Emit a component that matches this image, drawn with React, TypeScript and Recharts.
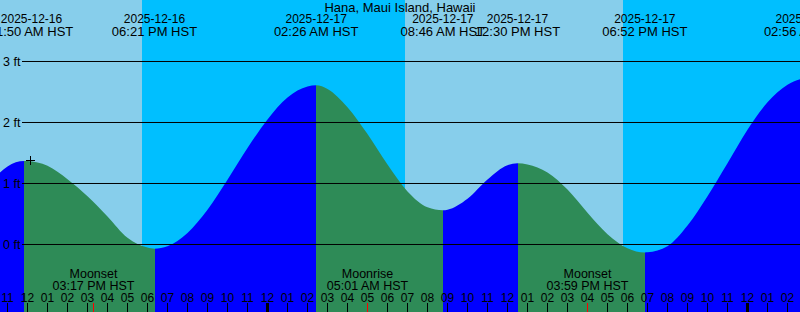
import React from 'react';
import { ComposedChart, Area, XAxis, YAxis, ReferenceArea, ReferenceLine, ReferenceDot } from 'recharts';

const W = 800;
const H = 312;
const FONT = '"Liberation Sans", Arial, Helvetica, sans-serif';

const TITLE = 'Hana, Maui Island, Hawaii';

// time axis: hours since 2025-12-16 00:00 HST
const X_DOMAIN: [number, number] = [10.625, 50.625];
const Y_DOMAIN: [number, number] = [-1.1066, 4.0082];

// tide height samples (ft)
const sampleHours = [10.625, 11, 11.833, 12, 13, 14, 15, 16, 17, 18, 18.35, 19, 20, 21, 22, 23, 24, 25, 26, 26.433, 27, 28, 29, 30, 31, 32, 32.767, 33, 34, 35, 36, 36.5, 37, 38, 39, 40, 41, 42, 42.867, 43, 44, 45, 46, 47, 48, 49, 50, 50.625];
const sampleFeet = [1.18, 1.28, 1.37, 1.368, 1.29, 1.07, 0.79, 0.46, 0.11, -0.05, -0.07, -0.03, 0.19, 0.57, 1.06, 1.58, 2.05, 2.41, 2.59, 2.61, 2.55, 2.25, 1.81, 1.31, 0.87, 0.61, 0.56, 0.57, 0.75, 1.065, 1.3, 1.33, 1.31, 1.18, 0.9, 0.52, 0.17, -0.06, -0.13, -0.128, -0.03, 0.31, 0.79, 1.33, 1.88, 2.33, 2.62, 2.71];

// tide extremes
const tideHours = [11.833, 18.35, 26.433, 32.767, 36.5, 42.867, 50.933];
const tideDates = ['2025-12-16', '2025-12-16', '2025-12-17', '2025-12-17', '2025-12-17', '2025-12-17', '2025-12-18'];
const tideTimes = ['11:50 AM HST', '06:21 PM HST', '02:26 AM HST', '08:46 AM HST', '12:30 PM HST', '06:52 PM HST', '02:56 AM HST'];

// moon events
const moonHours = [15.283, 29.017, 39.983];
const moonNames = ['Moonset', 'Moonrise', 'Moonset'];
const moonTimes = ['03:17 PM HST', '05:01 AM HST', '03:59 PM HST'];

// sun: darkness intervals
const sunsetHours = [17.725, 41.775];
const sunriseHours = [30.875];

const gridFeet = [0, 1, 2, 3];
const gridLabels = ['0 ft', '1 ft', '2 ft', '3 ft'];

const hourTicks: number[] = [];
for (let h = 11; h <= 50; h++) hourTicks.push(h);

const marker = { h: 12.15, ft: 1.37 };

const DAY = '#87CEEB';
const NIGHT = '#00BFFF';
const FLOOD = '#0000FF';
const EBB = '#2E8B57';

const data = sampleHours.map((h, i) => ({ h, ft: sampleFeet[i] }));

// day / night bands
const bandEdges = [X_DOMAIN[0], sunsetHours[0], sunriseHours[0], sunsetHours[1], X_DOMAIN[1]];
const bands = bandEdges.slice(0, -1).map((from, i) => ({ from, to: bandEdges[i + 1], night: i % 2 === 1 }));

// flood / ebb gradient stops
const frac = (h: number) => (h - X_DOMAIN[0]) / (X_DOMAIN[1] - X_DOMAIN[0]);
const fillBounds = [X_DOMAIN[0], ...tideHours.filter((h) => h < X_DOMAIN[1]), X_DOMAIN[1]];
const stops: { off: number; color: string }[] = [];
for (let i = 0; i < fillBounds.length - 1; i++) {
  const c = i % 2 === 0 ? FLOOD : EBB;
  stops.push({ off: frac(fillBounds[i]), color: c });
  stops.push({ off: frac(fillBounds[i + 1]), color: c });
}

const hourShape = (h: number) => (p: any) => {
  const m = h % 12;
  const label = String(m === 0 ? 12 : m).padStart(2, '0');
  const midnight = h % 24 === 0;
  const cx = Math.floor(p.x1 + 0.001) + 0.5;
  const bottom = Math.max(p.y1, p.y2);
  return (
    <g>
      <text x={cx} y={301.5} textAnchor="middle" fontSize={12} fontFamily={FONT} fill="#000">{label}</text>
      <line x1={cx} x2={cx} y1={bottom - 9} y2={bottom} stroke="#000" strokeWidth={midnight ? 3 : 1} />
    </g>
  );
};

const gridShape = (label: string) => (p: any) => {
  const y = p.y1;
  return (
    <g>
      <line x1={Math.min(p.x1, p.x2) + 22} x2={Math.max(p.x1, p.x2)} y1={y} y2={y} stroke="#000" strokeWidth={1} />
      <text x={3} y={y + 4.5} fontSize={12.5} fontFamily={FONT} fill="#000">{label}</text>
    </g>
  );
};

const moonShape = (name: string, time: string) => (p: any) => {
  const x = Math.floor(p.x1) + 0.5;
  const bottom = Math.max(p.y1, p.y2);
  return (
    <g>
      <text x={x} y={278.3} textAnchor="middle" fontSize={12.5} fontFamily={FONT} fill="#000">{name}</text>
      <text x={x} y={290} textAnchor="middle" fontSize={12.5} fontFamily={FONT} fill="#000">{time}</text>
      <line x1={x} x2={x} y1={bottom - 9} y2={bottom} stroke="#FF0000" strokeWidth={1} />
    </g>
  );
};

const tideShape = (date: string, time: string) => (p: any) => {
  const x = Math.max(p.x1, 31.5);
  return (
    <g>
      <text x={x} y={23.3} textAnchor="middle" fontSize={12} fontFamily={FONT} fill="#000">{date}</text>
      <text x={x} y={36} textAnchor="middle" fontSize={13} fontFamily={FONT} fill="#000">{time}</text>
    </g>
  );
};

const plusShape = (p: any) => {
  const cx = Math.floor(p.cx) + 0.5;
  const cy = Math.floor(p.cy) + 0.5;
  return <path d={`M${cx - 4.5},${cy}H${cx + 4.5}M${cx},${cy - 4.5}V${cy + 4.5}`} stroke="#000" strokeWidth={1} fill="none" />;
};

export default function App() {
  return (
    <div style={{ position: 'absolute', left: 0, top: 0, width: W, height: H }}>
      <ComposedChart width={W} height={H} data={data} margin={{ top: 0, right: 0, bottom: 0, left: 0 }}>
        <defs>
          <linearGradient id="tideFill" gradientUnits="userSpaceOnUse" x1={0} y1={0} x2={W} y2={0}>
            {stops.map((s, i) => (
              <stop key={i} offset={s.off} stopColor={s.color} />
            ))}
          </linearGradient>
        </defs>
        <XAxis type="number" dataKey="h" domain={X_DOMAIN} allowDataOverflow hide />
        <YAxis type="number" domain={Y_DOMAIN} allowDataOverflow hide />
        {bands.map((b, i) => (
          <ReferenceArea key={'b' + i} x1={b.from} x2={b.to} fill={b.night ? NIGHT : DAY} fillOpacity={1} stroke="none" ifOverflow="hidden" />
        ))}
        <Area
          dataKey="ft"
          type="monotone"
          stroke="none"
          fill="url(#tideFill)"
          fillOpacity={1}
          baseValue="dataMin"
          isAnimationActive={false}
          dot={false}
          activeDot={false}
        />
        {gridFeet.map((v, i) => (
          <ReferenceLine key={'g' + i} y={v} shape={gridShape(gridLabels[i])} />
        ))}
        {hourTicks.map((h) => (
          <ReferenceLine key={'h' + h} x={h} shape={hourShape(h)} />
        ))}
        {moonHours.map((m, i) => (
          <ReferenceLine key={'m' + i} x={m} shape={moonShape(moonNames[i], moonTimes[i])} />
        ))}
        {tideHours.map((t, i) => (
          <ReferenceLine key={'t' + i} x={t} ifOverflow="visible" shape={tideShape(tideDates[i], tideTimes[i])} />
        ))}
        <ReferenceDot x={marker.h} y={marker.ft} shape={plusShape} />
      </ComposedChart>
      <svg width={W} height={H} style={{ position: 'absolute', left: 0, top: 0, pointerEvents: 'none' }}>
        <text x={400} y={11.5} textAnchor="middle" fontSize={13} fontFamily={FONT} fill="#000">{TITLE}</text>
      </svg>
    </div>
  );
}
